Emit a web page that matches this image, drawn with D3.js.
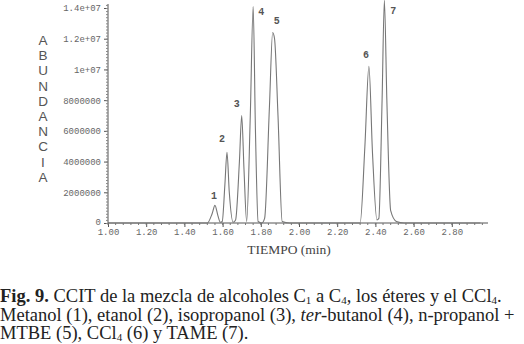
<!DOCTYPE html>
<html>
<head>
<meta charset="utf-8">
<script src="https://cdn.jsdelivr.net/npm/d3@7"></script>
<style>
  body { margin: 0; background: #fff; }
  svg { display: block; }
</style>
</head>
<body>
<div id="chart"></div>
<script>
// trace: time (min) and abundance
var times = [1.00, 1.52, 1.545, 1.56, 1.575, 1.588, 1.598, 1.612, 1.623, 1.635, 1.655,
             1.668, 1.688, 1.70, 1.712, 1.726, 1.745, 1.76, 1.772, 1.786, 1.805,
             1.82, 1.845, 1.862, 1.872, 1.89, 1.912, 1.95, 2.32, 2.345, 2.366,
             2.385, 2.408, 2.418, 2.435, 2.447, 2.46, 2.48, 2.51, 2.55, 2.95];
var abundance = [0, 0, 6e5, 1.15e6, 5e5, 5e4, 1e5, 2.5e6, 4.6e6, 2.0e6, 5e4,
                 2e5, 4.0e6, 7.0e6, 3.5e6, 1e5, 7.0e6, 1.41e7, 6.0e6, 1e5, 0,
                 3e5, 7.5e6, 1.24e7, 1.2e7, 7.0e6, 1e5, 0, 0, 5.0e6, 1.02e7,
                 4.5e6, 2e5, 3e5, 8.0e6, 1.45e7, 8.0e6, 8e5, 1e5, 0, 0];

// peak numbers
var peakIds = ["1", "2", "3", "4", "5", "6", "7"];
var peakTimes = [1.56, 1.623, 1.70, 1.76, 1.862, 2.366, 2.447];
var peakHeights = [1.15e6, 4.6e6, 7.0e6, 1.41e7, 1.24e7, 1.02e7, 1.45e7];

var xTicks = [1.0, 1.2, 1.4, 1.6, 1.8, 2.0, 2.2, 2.4, 2.6, 2.8];
var yTicks = [0, 2e6, 4e6, 6e6, 8e6, 1e7, 1.2e7, 1.4e7];
var yTickLabels = ["0", "2000000", "4000000", "6000000", "8000000", "1e+07", "1.2e+07", "1.4e+07"];
var yTitle = "ABUNDANCIA";
var xTitle = "TIEMPO (min)";

var W = 524, H = 344;

var svg = d3.select("#chart")
  .append("svg")
  .attr("width", W)
  .attr("height", H);

var x = d3.scaleLinear().domain([1, 3]).range([108, 490]);
var y = d3.scaleLinear().domain([0, 1.4e7]).range([223, 8]);

var axisColor = "#555";

// y axis
var yAxis = svg.append("g")
  .attr("transform", "translate(" + x(1) + ",0)")
  .call(d3.axisLeft(y).tickValues(yTicks).tickSize(4)
    .tickFormat(function(d, i) { return yTickLabels[i]; }));
yAxis.select(".domain").attr("stroke", axisColor).attr("d", "M0," + y(0) + "V4");
yAxis.selectAll(".tick line").attr("stroke", axisColor);
yAxis.selectAll(".tick text")
  .attr("x", -7)
  .attr("dy", function(d) { return d === 0 ? "0.2em" : "0.32em"; })
  .style("font-family", "'Liberation Mono', monospace")
  .style("font-size", "9px")
  .attr("fill", "#666");

// y minor ticks
svg.append("g").selectAll("line")
  .data(d3.range(0, 1.43e7, 2e5))
  .enter()
  .append("line")
    .attr("x1", x(1) - 2).attr("x2", x(1))
    .attr("y1", function(d) { return y(d) + 0.5; })
    .attr("y2", function(d) { return y(d) + 0.5; })
    .attr("stroke", "#888");

// x axis
var xAxis = svg.append("g")
  .attr("transform", "translate(0," + y(0) + ")")
  .call(d3.axisBottom(x).tickValues(xTicks).tickSize(4)
    .tickFormat(d3.format(".2f")));
xAxis.select(".domain").attr("stroke", axisColor).attr("d", "M" + x(1) + ",0H" + (x(3) - 2));
xAxis.selectAll(".tick line").attr("stroke", axisColor);
xAxis.selectAll(".tick text")
  .attr("y", 6)
  .style("font-family", "'Liberation Mono', monospace")
  .style("font-size", "9px")
  .attr("fill", "#666");

// x minor ticks
svg.append("g").selectAll("line")
  .data(d3.range(1, 2.97, 0.04))
  .enter()
  .append("line")
    .attr("x1", function(d) { return x(d); })
    .attr("x2", function(d) { return x(d); })
    .attr("y1", y(0)).attr("y2", y(0) + 2)
    .attr("stroke", "#777");

// trace
var pts = times.map(function(t, i) { return [t, abundance[i]]; });
var line = d3.line()
  .x(function(d) { return x(d[0]); })
  .y(function(d) { return y(d[1]); })
  .curve(d3.curveMonotoneX);

svg.append("path")
  .datum(pts)
  .attr("d", line)
  .attr("fill", "none")
  .attr("stroke", "#777")
  .attr("stroke-width", 1.1);

// peak numbers (offset from each peak apex)
var labelDx = [-1, -5, -5, 8, 4, -3, 9];
var labelDy = [-6, -10, -9, 9, -9, -8, 14];
svg.selectAll("text.peak")
  .data(peakIds)
  .enter()
  .append("text")
    .attr("class", "peak")
    .attr("x", function(d, i) { return x(peakTimes[i]) + labelDx[i]; })
    .attr("y", function(d, i) { return y(peakHeights[i]) + labelDy[i]; })
    .attr("text-anchor", "middle")
    .style("font-family", "'Liberation Mono', monospace")
    .style("font-size", "10px")
    .style("font-weight", "bold")
    .attr("fill", "#555")
    .text(function(d) { return d; });

// vertical axis title, one letter per row
svg.selectAll("text.ytitle")
  .data(yTitle.split(""))
  .enter()
  .append("text")
    .attr("class", "ytitle")
    .attr("x", 43)
    .attr("y", function(d, i) { return 45 + i * 15.2; })
    .attr("text-anchor", "middle")
    .style("font-family", "'Liberation Sans', Arial, sans-serif")
    .style("font-size", "13.5px")
    .attr("fill", "#555")
    .text(function(d) { return d; });

// x axis title
svg.append("text")
  .attr("x", 289)
  .attr("y", 254)
  .attr("text-anchor", "middle")
  .style("font-family", "'Liberation Serif', serif")
  .style("font-size", "13.5px")
  .attr("fill", "#444")
  .text(xTitle);

// caption
var cap = svg.append("g")
  .style("font-family", "'Liberation Serif', 'Times New Roman', serif")
  .style("font-size", "18.5px")
  .attr("fill", "#222");

var subSize = "11px";
var l1 = cap.append("text").attr("x", 0).attr("y", 302);
l1.append("tspan").style("font-weight", "bold").text("Fig. 9.");
l1.append("tspan").text(" CCIT de la mezcla de alcoholes C");
l1.append("tspan").attr("dy", 2).style("font-size", subSize).text("1");
l1.append("tspan").attr("dy", -2).text(" a C");
l1.append("tspan").attr("dy", 2).style("font-size", subSize).text("4");
l1.append("tspan").attr("dy", -2).text(", los éteres y el CCl");
l1.append("tspan").attr("dy", 2).style("font-size", subSize).text("4");
l1.append("tspan").attr("dy", -2).text(".");

var l2 = cap.append("text").attr("x", 0).attr("y", 320.5);
l2.append("tspan").text("Metanol (1), etanol (2), isopropanol (3), ");
l2.append("tspan").style("font-style", "italic").text("ter");
l2.append("tspan").text("-butanol (4), n-propanol +");

var l3 = cap.append("text").attr("x", 0).attr("y", 339);
l3.append("tspan").text("MTBE (5), CCl");
l3.append("tspan").attr("dy", 2).style("font-size", subSize).text("4");
l3.append("tspan").attr("dy", -2).text(" (6) y TAME (7).");
</script>
</body>
</html>
